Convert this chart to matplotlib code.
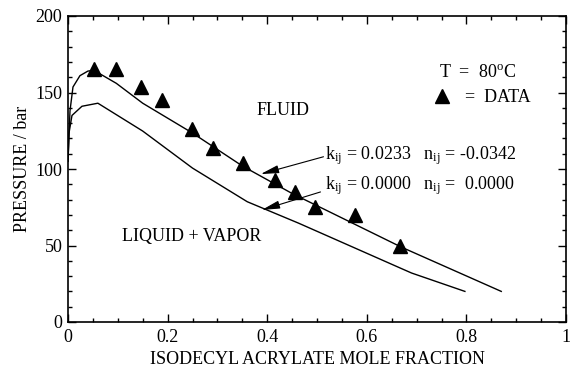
import matplotlib
matplotlib.use("Agg")
import matplotlib.pyplot as plt
from matplotlib.ticker import MultipleLocator, FuncFormatter

plt.rcParams['font.family'] = ['Liberation Serif', 'DejaVu Serif']
plt.rcParams['mathtext.fontset'] = 'custom'
plt.rcParams['mathtext.rm'] = 'Liberation Serif'
plt.rcParams['mathtext.it'] = 'Liberation Serif:italic'

# experimental data
data_x = [0.052, 0.096, 0.146, 0.188, 0.248, 0.291, 0.351, 0.415, 0.455, 0.496, 0.577, 0.667]
data_p = [165.4, 165.4, 153.6, 145.0, 126.0, 114.0, 104.0, 92.8, 85.0, 75.4, 70.0, 49.9]

# model kij=0.0233, nij=-0.0342
fit1_x = [0.0, 0.004, 0.010, 0.024, 0.040, 0.052, 0.097, 0.150, 0.250, 0.350, 0.450, 0.669, 0.870]
fit1_p = [105.0, 138.0, 153.6, 161.0, 164.0, 164.5, 156.0, 143.0, 123.5, 102.0, 84.0, 49.0, 20.0]

# model kij=0, nij=0
fit2_x = [0.0, 0.002, 0.008, 0.028, 0.060, 0.150, 0.250, 0.360, 0.463, 0.669, 0.690, 0.797]
fit2_p = [105.0, 123.5, 135.0, 141.0, 143.0, 124.8, 100.6, 78.6, 64.6, 35.0, 32.0, 20.0]

fig = plt.figure(figsize=(5.7, 3.67), dpi=100)
ax = fig.add_axes([68/570, 1-322/367, 498/570, 306/367])

ax.plot(fit1_x, fit1_p, color='black', lw=1.0)
ax.plot(fit2_x, fit2_p, color='black', lw=1.0)
ax.plot(data_x, data_p, linestyle='none', marker='^', color='black', ms=10)

ax.set_xlim(0, 1)
ax.set_ylim(0, 200)
ax.xaxis.set_major_locator(MultipleLocator(0.2))
ax.xaxis.set_minor_locator(MultipleLocator(0.05))
ax.yaxis.set_major_locator(MultipleLocator(50))
ax.yaxis.set_minor_locator(MultipleLocator(10))
ax.xaxis.set_major_formatter(FuncFormatter(
    lambda v, p: '0' if abs(v) < 1e-9 else ('1' if abs(v - 1) < 1e-9 else f'{v:.1f}')))
ax.tick_params(which='both', direction='in', top=True, right=True, labelsize=13, width=1)
ax.tick_params(which='major', length=6)
ax.tick_params(which='minor', length=3)
ax.tick_params(axis='x', pad=5)
ax.tick_params(axis='y', pad=4)
for s in ax.spines.values():
    s.set_linewidth(1.2)

ax.set_xlabel('ISODECYL ACRYLATE MOLE FRACTION', fontsize=13, labelpad=4)
ax.set_ylabel('PRESSURE / bar', fontsize=13, labelpad=3)

ax.text(0.379, 138.5, 'FLUID', fontsize=13, va='center')
ax.text(0.108, 55.6, 'LIQUID + VAPOR', fontsize=13, va='center')
ax.text(0.745, 163, r'T  =  80$^{\rm o}$C', fontsize=13, va='center')
ax.plot([0.75], [147.5], marker='^', color='black', ms=10, linestyle='none')
ax.text(0.797, 147, '=  DATA', fontsize=13, va='center')

arrowprops = dict(arrowstyle='-|>,head_length=1.0,head_width=0.22', color='black', lw=0.8,
                  facecolor='white', mutation_scale=11, shrinkA=0, shrinkB=0)
ax.annotate('', xy=(0.387, 96.7), xytext=(0.513, 108.0), arrowprops=arrowprops)
ax.annotate('', xy=(0.389, 73.2), xytext=(0.507, 85.0), arrowprops=arrowprops)

ax.text(0.517, 108.5, r'k$_{\rm ij}$ = 0.0233   n$_{\rm ij}$ = -0.0342', fontsize=13, va='center')
ax.text(0.517, 89.5, r'k$_{\rm ij}$ = 0.0000   n$_{\rm ij}$ =  0.0000', fontsize=13, va='center')

fig.savefig('out.png', dpi=100)
